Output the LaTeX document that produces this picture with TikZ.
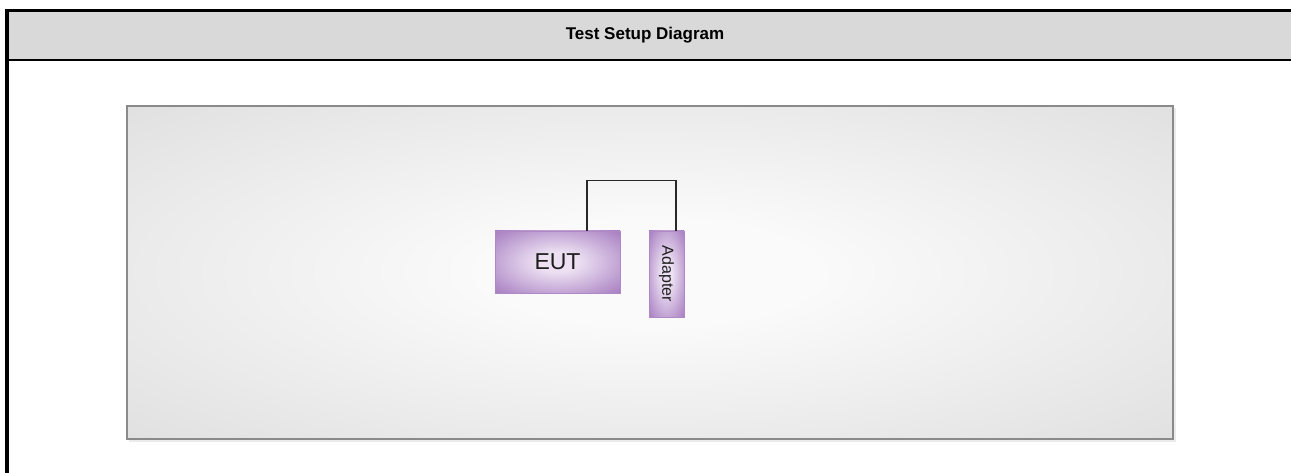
\documentclass[tikz,border=0pt]{standalone}
\usepackage{fontspec}
\setmainfont{Liberation Sans}
\usetikzlibrary{calc}

\definecolor{headgray}{RGB}{217,217,217}
\definecolor{framegray}{RGB}{138,138,138}
\definecolor{benchout}{RGB}{211,211,211}
\definecolor{benchin}{RGB}{250,250,250}
\definecolor{purpout}{RGB}{160,116,188}
\definecolor{purpin}{RGB}{236,224,242}
\definecolor{wiregray}{RGB}{40,40,40}
\definecolor{labelgray}{RGB}{30,30,30}

\pgfdeclareradialshading{benchglow}{\pgfpoint{0bp}{0bp}}{color(0bp)=(benchin); color(8bp)=(benchin); color(50bp)=(benchout); color(72bp)=(benchout)}
\pgfdeclareradialshading{unitglow}{\pgfpoint{0bp}{0bp}}{color(0bp)=(purpin); color(8bp)=(purpin); color(38bp)=(purpout); color(72bp)=(purpout)}

\tikzset{
	unitbox/.style={draw=purpout!85!white, line width=0.8, shading=unitglow, inner sep=0pt, text=labelgray},
	wire/.style={draw=wiregray, line width=1.6},
}

\begin{document}
\begin{tikzpicture}[x=1pt, y=-1pt]
	\useasboundingbox (0,0) rectangle (1291,473);
	
	% header band
	\fill[headgray] (7,11) rectangle (1291,60);
	\draw[line width=3] (5,11) -- (1291,11);
	\draw[line width=2] (7,60) -- (1291,60);
	\draw[line width=4] (7,9.5) -- (7,473);
	\node[font=\bfseries\fontsize{17}{19}\selectfont] (title) at (645,35) {Test Setup Diagram};
	
	% test bench
	\fill[black!8] (129,108) rectangle (1176,442);
	\shade[shading=benchglow] (127,106) rectangle (1173,439);
	\draw[framegray, line width=1.8] (127,106) rectangle (1173,439);
	
	% units
	\node[unitbox, minimum width=125, minimum height=62, font=\fontsize{23}{25}\selectfont] (eut) at (557.5,262) {EUT};
	\node[unitbox, minimum width=35, minimum height=86, font=\fontsize{16}{18}\selectfont] (adapter) at (666.5,274) {\rotatebox{-90}{Adapter}};
	
	% cable
	\draw[wire] ([xshift=29.5]eut.north) -- ++(0,-50) -| ([xshift=9.5]adapter.north);
\end{tikzpicture}
\end{document}
